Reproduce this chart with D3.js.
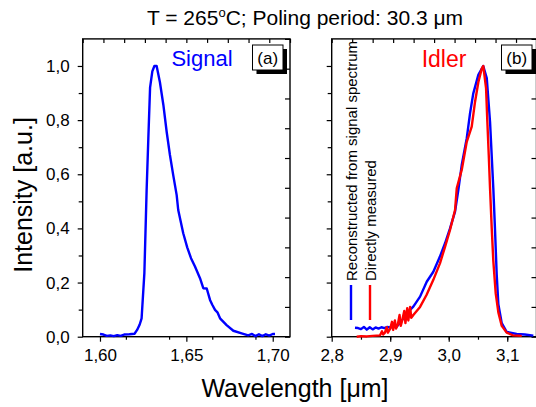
<!DOCTYPE html>
<html>
<head>
<meta charset="utf-8">
<script src="https://cdn.jsdelivr.net/npm/d3@7"></script>
<style>
  html, body { margin: 0; padding: 0; background: #fff; }
  svg { display: block; font-family: "Liberation Sans", Arial, Helvetica, sans-serif; }
</style>
</head>
<body>
<svg id="chart" width="536" height="407"></svg>
<script>
// ---------------- DATA ----------------
const signalWl  = [1.600,1.602,1.604,1.606,1.608,1.610,1.612,1.614,1.617,1.620,1.6215,1.623,1.6241,1.6257,1.627,1.628,1.629,1.6303,1.6315,1.6328,1.6347,1.6367,1.6386,1.6405,1.6424,1.6444,1.6453,1.6482,1.6505,1.6527,1.655,1.6579,1.6598,1.6618,1.6637,1.665,1.6666,1.668,1.6695,1.6733,1.6772,1.682,1.6858,1.688,1.690,1.692,1.694,1.696,1.698,1.700,1.7013];
const signalInt = [0.010,0.008,0.003,0.005,0.002,0.006,0.003,0.008,0.009,0.011,0.025,0.045,0.068,0.235,0.54,0.734,0.92,0.98,1.0,1.0,0.94,0.856,0.757,0.671,0.597,0.523,0.468,0.382,0.33,0.29,0.259,0.216,0.179,0.178,0.136,0.118,0.099,0.09,0.068,0.043,0.022,0.0125,0.005,0.010,0.002,0.009,0.002,0.009,0.004,0.010,0.010];

const idlerRecWl  = [2.8398,2.845,2.850,2.855,2.860,2.865,2.870,2.875,2.880,2.885,2.890,2.895,2.900,2.905,2.911,2.920,2.928,2.9395,2.951,2.9624,2.9737,2.985,2.9937,3.0022,3.0108,3.0164,3.0222,3.0308,3.0364,3.042,3.0506,3.059,3.065,3.0706,3.0762,3.079,3.082,3.0848,3.0906,3.099,3.116,3.130,3.1446];
const idlerRecInt = [0.033,0.032,0.028,0.036,0.026,0.035,0.027,0.034,0.030,0.035,0.032,0.036,0.034,0.037,0.037,0.060,0.086,0.111,0.148,0.203,0.240,0.296,0.345,0.400,0.462,0.542,0.634,0.733,0.825,0.899,0.967,1.0,0.955,0.794,0.548,0.400,0.230,0.120,0.050,0.018,0.010,0.008,0.004];

const idlerMeasWl  = [2.8427,2.850,2.860,2.870,2.8826,2.886,2.888,2.891,2.894,2.896,2.900,2.903,2.905,2.908,2.910,2.913,2.916,2.918,2.921,2.924,2.926,2.929,2.931,2.934,2.936,2.9395,2.951,2.962,2.9737,2.985,2.9937,3.0022,3.0108,3.0137,3.0222,3.0308,3.0393,3.045,3.0506,3.0564,3.059,3.0638,3.066,3.0684,3.0706,3.0735,3.0762,3.0803,3.0848,3.0906,3.099,3.110,3.1248];
const idlerMeasInt = [0.000,0.002,0.001,0.003,0.005,0.020,0.008,0.015,0.035,0.015,0.030,0.055,0.025,0.060,0.030,0.045,0.080,0.040,0.065,0.095,0.050,0.105,0.060,0.110,0.070,0.080,0.110,0.154,0.210,0.271,0.332,0.394,0.468,0.548,0.616,0.720,0.776,0.868,0.940,0.990,1.0,0.918,0.794,0.671,0.548,0.400,0.280,0.160,0.090,0.040,0.015,0.005,0.003];

const yTickVals   = [0, 0.2, 0.4, 0.6, 0.8, 1.0];
const yTickLabels = ["0,0", "0,2", "0,4", "0,6", "0,8", "1,0"];
const sigTickVals   = [1.60, 1.65, 1.70];
const sigTickLabels = ["1,60", "1,65", "1,70"];
const idlTickVals   = [2.8, 2.9, 3.0, 3.1];
const idlTickLabels = ["2,8", "2,9", "3,0", "3,1"];
const legendLabels  = ["Reconstructed from signal spectrum", "Directly measured"];
const panelLabels   = ["(a)", "(b)"];
const curveNames    = ["Signal", "Idler"];

// ---------------- LAYOUT ----------------
const svg = d3.select("#chart");
svg.append("rect").attr("width", 536).attr("height", 407).attr("fill", "#fff");

const plotTop = 38.9, plotBottom = 336.7;
const P1 = {l: 82.7, r: 290};
const P2 = {l: 331.7, r: 536.5};
const BLUE = "#0000ff", RED = "#ff0000";

const y = d3.scaleLinear().domain([0, 1.1]).range([plotBottom, plotTop]);
const x1 = d3.scaleLinear().domain([1.59, 1.71]).range([P1.l, P1.r]);
const x2 = d3.scaleLinear().domain([2.8, 3.15]).range([P2.l, P2.r]);

function styleAxis(g) {
  g.select(".domain").remove();
  g.selectAll("line").attr("stroke", "#000").attr("stroke-width", 1.2);
  g.selectAll("text").attr("fill", "#000").attr("font-size", 17)
    .attr("font-family", '"Liberation Sans", Arial, sans-serif');
}

function panel(P, x, majorX, labelsX, minorStep, showYLabels) {
  const minorX = d3.range(x.domain()[0], x.domain()[1] + 1e-9, minorStep)
    .filter(v => Math.abs(v - x.domain()[0]) > 1e-9);
  svg.append("g").attr("transform", `translate(0,${plotBottom})`)
    .call(d3.axisBottom(x).tickValues(minorX).tickFormat("").tickSize(3).tickSizeOuter(0))
    .call(styleAxis);
  svg.append("g").attr("transform", `translate(0,${plotBottom})`)
    .call(d3.axisBottom(x).tickValues(majorX).tickFormat((d, i) => labelsX[i]).tickSize(5).tickPadding(7).tickSizeOuter(0))
    .call(styleAxis);

  svg.append("g").attr("transform", `translate(${P.l},0)`)
    .call(d3.axisLeft(y).tickValues(d3.range(0.1, 1.01, 0.2)).tickFormat("").tickSize(4).tickSizeOuter(0))
    .call(styleAxis);
  svg.append("g").attr("transform", `translate(${P.l},0)`)
    .call(d3.axisLeft(y).tickValues(yTickVals).tickFormat((d, i) => showYLabels ? yTickLabels[i] : "").tickSize(5).tickPadding(8).tickSizeOuter(0))
    .call(styleAxis);

  const tx = d3.scaleLinear().domain([0, 10]).range([P.l, P.r]);
  svg.append("g").attr("transform", `translate(0,${plotTop})`)
    .call(d3.axisBottom(tx).ticks(10).tickFormat("").tickSize(4).tickSizeOuter(0))
    .call(styleAxis);
  const ry = d3.scaleLinear().domain([0, 10]).range([plotBottom, plotTop]);
  svg.append("g").attr("transform", `translate(${P.r},0)`)
    .call(d3.axisLeft(ry).ticks(10).tickFormat("").tickSize(5).tickSizeOuter(0))
    .call(styleAxis);

  svg.append("rect").attr("x", P.l).attr("y", plotTop).attr("width", P.r - P.l).attr("height", plotBottom - plotTop)
    .attr("fill", "none").attr("stroke", "#000").attr("stroke-width", 1.4);
}

panel(P1, x1, sigTickVals, sigTickLabels, 0.025, true);
panel(P2, x2, idlTickVals, idlTickLabels, 0.05, false);

// ---------------- CURVES ----------------
const line1 = d3.line().x(d => x1(d[0])).y(d => y(d[1]));
const line2 = d3.line().x(d => x2(d[0])).y(d => y(d[1]));

svg.append("path").datum(d3.zip(signalWl, signalInt)).attr("d", line1)
  .attr("fill", "none").attr("stroke", BLUE).attr("stroke-width", 2.4).attr("stroke-linejoin", "round");

svg.append("defs").append("clipPath").attr("id", "clip2").append("rect")
  .attr("x", P2.l).attr("y", plotTop).attr("width", P2.r - P2.l).attr("height", plotBottom - plotTop + 2);
const g2 = svg.append("g").attr("clip-path", "url(#clip2)");
g2.append("path").datum(d3.zip(idlerRecWl, idlerRecInt)).attr("d", line2)
  .attr("fill", "none").attr("stroke", BLUE).attr("stroke-width", 2.4).attr("stroke-linejoin", "round");
g2.append("path").datum(d3.zip(idlerMeasWl, idlerMeasInt)).attr("d", line2)
  .attr("fill", "none").attr("stroke", RED).attr("stroke-width", 2.4).attr("stroke-linejoin", "round");

// ---------------- LABELS ----------------
svg.append("text").attr("x", 202).attr("y", 66).attr("text-anchor", "middle")
  .attr("font-size", 22).attr("fill", BLUE).text(curveNames[0]);
svg.append("text").attr("x", 444).attr("y", 67).attr("text-anchor", "middle")
  .attr("font-size", 23).attr("fill", RED).text(curveNames[1]);

function labelBox(xl, label) {
  svg.append("rect").attr("x", xl + 4).attr("y", 49).attr("width", 30.5).attr("height", 25).attr("fill", "#000");
  svg.append("rect").attr("x", xl).attr("y", 45).attr("width", 30.5).attr("height", 25)
    .attr("fill", "#fff").attr("stroke", "#000").attr("stroke-width", 1);
  svg.append("text").attr("x", xl + 15.25).attr("y", 63.5).attr("text-anchor", "middle")
    .attr("font-size", 17).attr("fill", "#000").text(label);
}
labelBox(252.5, panelLabels[0]);
labelBox(501.5, panelLabels[1]);

const legendX = [351, 370];
const legendColors = [BLUE, RED];
legendX.forEach((lx, i) => {
  svg.append("line").attr("x1", lx).attr("x2", lx).attr("y1", 285).attr("y2", 320)
    .attr("stroke", legendColors[i]).attr("stroke-width", 2.4);
  svg.append("text").attr("transform", `translate(${lx + 6},281) rotate(-90)`)
    .attr("font-size", 15).attr("fill", "#000").text(legendLabels[i]);
});

const title = svg.append("text").attr("x", 305).attr("y", 25).attr("text-anchor", "middle")
  .attr("font-size", 21).attr("fill", "#000");
title.append("tspan").text("T = 265");
title.append("tspan").attr("font-size", 13).attr("dy", -8).text("o");
title.append("tspan").attr("dy", 8).text("C; Poling period: 30.3 μm");

svg.append("text").attr("x", 295).attr("y", 397).attr("text-anchor", "middle")
  .attr("font-size", 25).attr("fill", "#000").text("Wavelength [μm]");
svg.append("text").attr("transform", "translate(31.5,195) rotate(-90)").attr("text-anchor", "middle")
  .attr("font-size", 25).attr("fill", "#000").text("Intensity [a.u.]");
</script>
</body>
</html>
